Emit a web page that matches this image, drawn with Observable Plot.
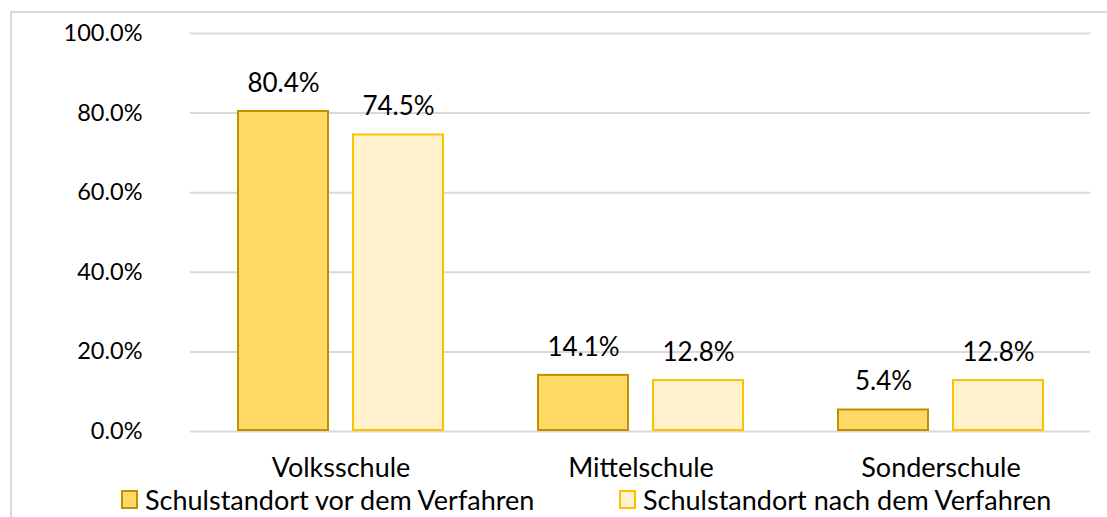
<!DOCTYPE html>
<html>
<head>
<meta charset="utf-8">
<script src="https://cdn.jsdelivr.net/npm/d3@7"></script>
<script src="https://cdn.jsdelivr.net/npm/@observablehq/plot@0.6"></script>
<style>
  html, body { margin: 0; padding: 0; background: #fff; }
  #wrap { position: relative; width: 1107px; height: 517px; overflow: hidden; font-family: Lato, "Open Sans", sans-serif; color: #000; }
  #frame { position: absolute; left: 10px; top: 11px; width: 1200px; height: 600px; border: 2px solid #D9D9D9; box-sizing: border-box; }
  #chart { position: absolute; left: 0; top: 0; }
  .leg { position: absolute; top: 483px; display: flex; align-items: center; font-size: 27px; white-space: nowrap; }
  .sw { width: 13px; height: 15px; border: 2px solid; margin-right: 7px; }
</style>
</head>
<body>
<div id="wrap">
  <div id="frame"></div>
  <div id="chart"></div>
  <div id="legend"></div>
</div>
<script>
const categories = ["Volksschule", "Mittelschule", "Sonderschule"];
const seriesNames = ["Schulstandort vor dem Verfahren", "Schulstandort nach dem Verfahren"];
const valuesBefore = [0.804, 0.141, 0.054];
const valuesAfter = [0.745, 0.128, 0.128];
const yTicks = [0, 0.2, 0.4, 0.6, 0.8, 1.0];
const fills = ["#FFD966", "#FFF2CC"];
const strokes = ["#BF9000", "#FFC000"];

const before = categories.map((c, i) => ({category: c, value: valuesBefore[i]}));
const after = categories.map((c, i) => ({category: c, value: valuesAfter[i]}));

// bar width 92, gap 23 inside a 207px band
const barW = 92, inner = 23;
const offset = (barW + inner) / 2;
const fmt = d3.format(".1%");

const plot = Plot.plot({
  width: 1107,
  height: 480,
  marginLeft: 190,
  marginRight: 17,
  marginTop: 33,
  marginBottom: 49,
  style: {fontFamily: "Lato, 'Open Sans', sans-serif", fontSize: "23px", color: "#000", background: "transparent", overflow: "visible"},
  x: {domain: categories, paddingInner: 0.31, paddingOuter: 0.155, label: null, axis: null},
  y: {domain: [0, 1], ticks: yTicks, label: null, axis: null},
  marks: [
    Plot.gridY(yTicks, {stroke: "#D9D9D9", strokeOpacity: 1, strokeWidth: 2}),
    Plot.axisY(yTicks, {tickSize: 0, tickPadding: 48, tickFormat: fmt, label: null, fontSize: 23.5, fill: "#000"}),
    Plot.axisX({tickSize: 0, tickPadding: 26, label: null, fontSize: 27, fill: "#000"}),
    Plot.barY(before, {x: "category", y: "value", fill: fills[0], stroke: strokes[0], strokeWidth: 2, insetLeft: 1, insetRight: barW + inner + 1, insetBottom: 1}),
    Plot.barY(after, {x: "category", y: "value", fill: fills[1], stroke: strokes[1], strokeWidth: 2, insetLeft: barW + inner + 1, insetRight: 1, insetBottom: 1}),
    Plot.text(before, {x: "category", y: "value", text: d => fmt(d.value), dx: -offset, dy: -28, fontSize: 26, fill: "#000"}),
    Plot.text(after, {x: "category", y: "value", text: d => fmt(d.value), dx: offset, dy: -28, fontSize: 26, fill: "#000"})
  ]
});
document.getElementById("chart").appendChild(plot);

const legend = document.getElementById("legend");
const legLeft = [121, 619];
seriesNames.forEach((s, i) => {
  const item = document.createElement("div");
  item.className = "leg";
  item.style.left = legLeft[i] + "px";
  const sw = document.createElement("div");
  sw.className = "sw";
  sw.style.background = fills[i];
  sw.style.borderColor = strokes[i];
  const label = document.createElement("span");
  label.textContent = s;
  item.appendChild(sw);
  item.appendChild(label);
  legend.appendChild(item);
});
</script>
</body>
</html>
